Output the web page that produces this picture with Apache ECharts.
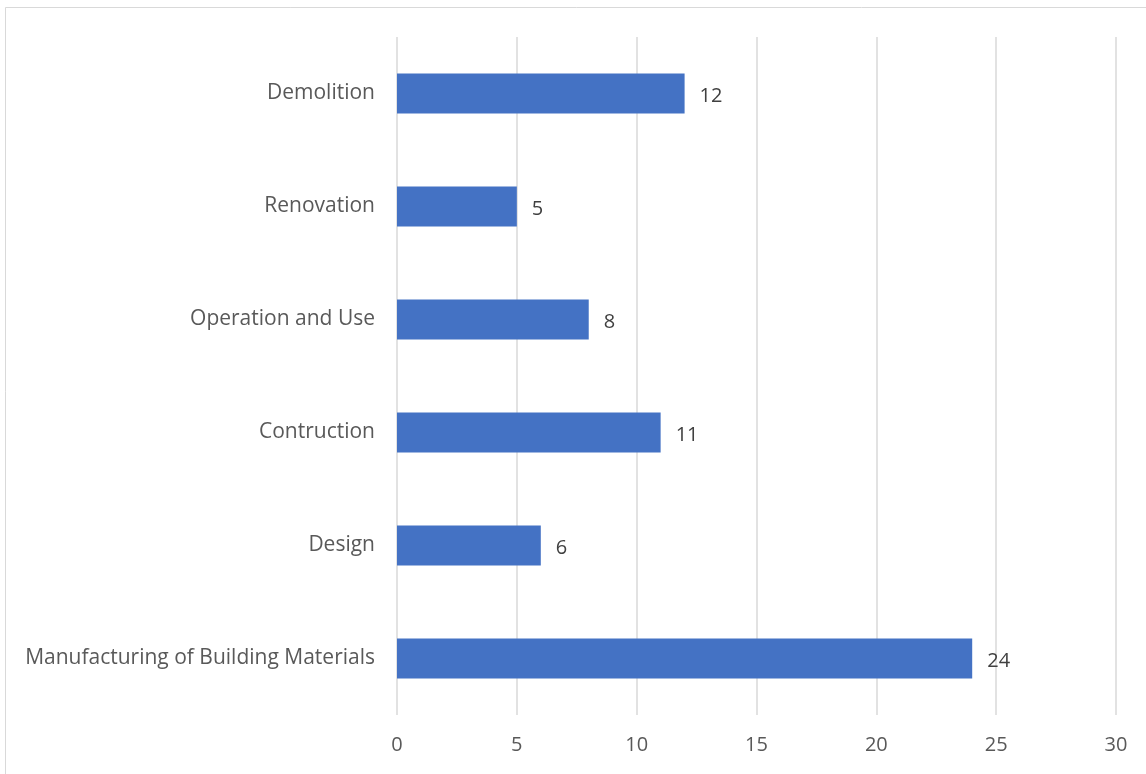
<!DOCTYPE html>
<html>
<head>
<meta charset="utf-8">
<script src="https://cdn.jsdelivr.net/npm/echarts@6/dist/echarts.min.js"></script>
<style>
  html, body { margin: 0; padding: 0; background: #fff; }
  #main { width: 1146px; height: 774px; }
</style>
</head>
<body>
<div id="main"></div>
<script>
// categories bottom -> top
var categories = ['Manufacturing of Building Materials', 'Design', 'Contruction', 'Operation and Use', 'Renovation', 'Demolition'];
var values = [24, 6, 11, 8, 5, 12];
var xTicks = [0, 5, 10, 15, 20, 25, 30];

var fontFam = '"Open Sans", sans-serif';
var myChart = echarts.init(document.getElementById('main'));

var option = {
    animation: false,
    backgroundColor: '#fff',
    graphic: [{
        type: 'rect',
        shape: { x: 5.5, y: 7.5, width: 1200, height: 900 },
        style: { fill: 'none', stroke: '#d9d9d9', lineWidth: 1 },
        silent: true
    }],
    grid: { left: 397, right: 30, top: 37, bottom: 59, containLabel: false },
    xAxis: {
        type: 'value',
        min: xTicks[0],
        max: xTicks[xTicks.length - 1],
        interval: 5,
        axisLine: { show: false },
        axisTick: { show: false },
        splitLine: { show: true, lineStyle: { color: '#d9d9d9', width: 1.5 } },
        axisLabel: { color: '#595959', fontSize: 20, fontFamily: fontFam, margin: 20 }
    },
    yAxis: {
        type: 'category',
        data: categories,
        axisLine: { show: false },
        axisTick: { show: false },
        axisLabel: { color: '#595959', fontSize: 21, fontFamily: fontFam, margin: 22 }
    },
    series: [{
        type: 'bar',
        data: values,
        barWidth: 40,
        itemStyle: { color: '#4472c4' },
        label: {
            show: true,
            position: 'right',
            distance: 15,
            color: '#404040',
            fontSize: 20,
            fontFamily: fontFam,
            offset: [0, 3]
        }
    }]
};

myChart.setOption(option);
</script>
</body>
</html>
